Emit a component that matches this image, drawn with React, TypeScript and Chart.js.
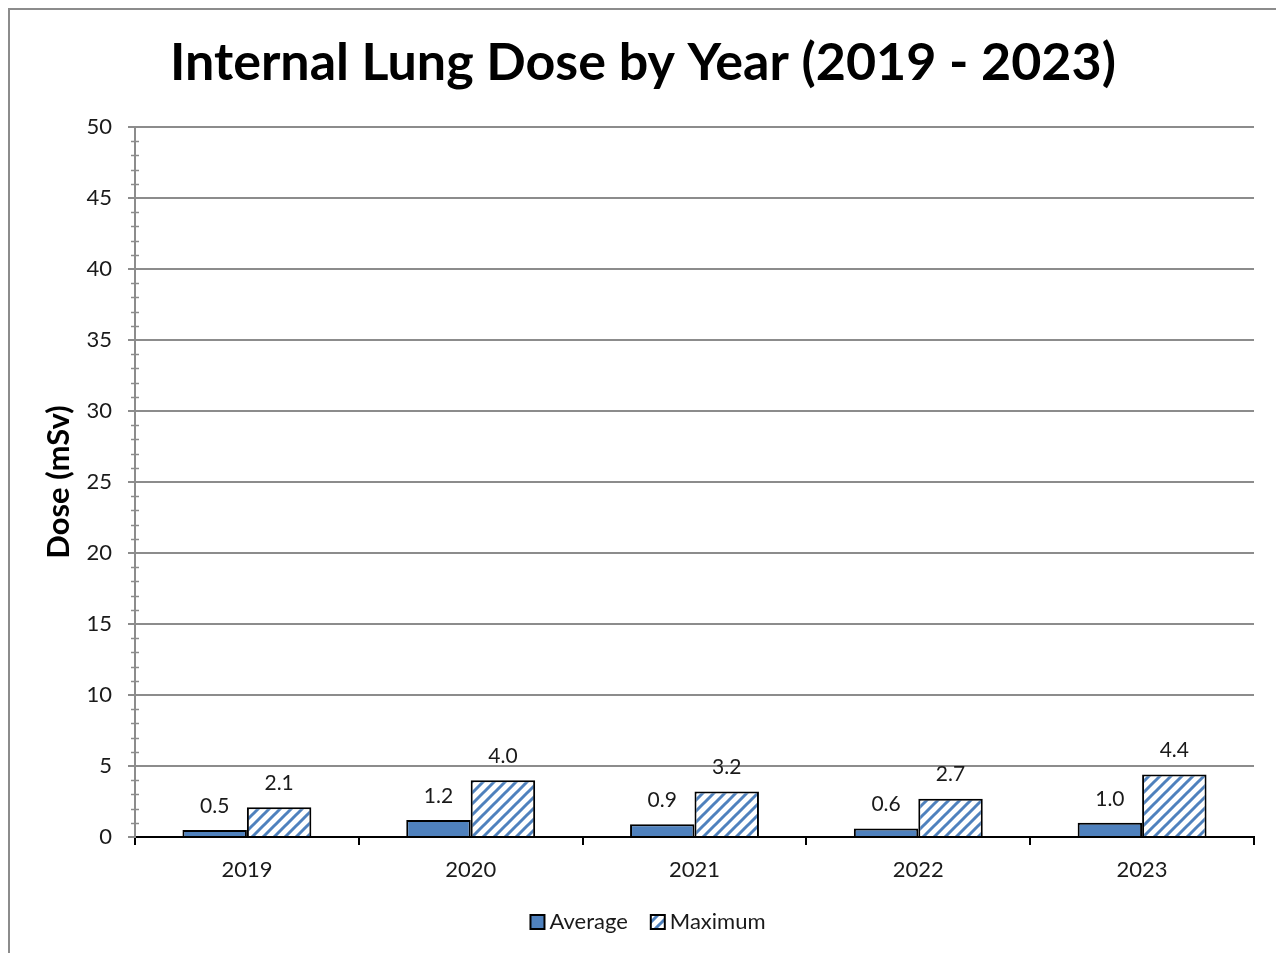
import React, { useEffect, useRef } from "react";
import { Chart, registerables } from "chart.js";

Chart.register(...registerables);

const years = ["2019", "2020", "2021", "2022", "2023"];
const averageDose = [0.5, 1.2, 0.9, 0.6, 1.0];
const maximumDose = [2.1, 4.0, 3.2, 2.7, 4.4];
const seriesNames = ["Average", "Maximum"];
const chartTitle = "Internal Lung Dose by Year (2019 - 2023)";
const yAxisTitle = "Dose (mSv)";

const FONT = "Lato, 'Open Sans', sans-serif";
const BLUE = "#4F81BD";
const GRID = "#8c8c8c";
const TEXT = "#1a1a1a";

function makeStripePattern(): CanvasPattern | string {
  const s = 11;
  const c = document.createElement("canvas");
  c.width = s;
  c.height = s;
  const g = c.getContext("2d");
  if (!g) return BLUE;
  g.fillStyle = "#ffffff";
  g.fillRect(0, 0, s, s);
  g.strokeStyle = BLUE;
  g.lineWidth = 3;
  g.lineCap = "square";
  g.beginPath();
  g.moveTo(0, s);
  g.lineTo(s, 0);
  g.moveTo(-s / 2, s / 2);
  g.lineTo(s / 2, -s / 2);
  g.moveTo(s / 2, s + s / 2);
  g.lineTo(s + s / 2, s / 2);
  g.stroke();
  const p = g.createPattern(c, "repeat");
  return p || BLUE;
}

const decorPlugin = {
  id: "decor",
  afterDatasetsDraw(chart: any) {
    const ctx = chart.ctx;
    ctx.save();
    ctx.font = `21px ${FONT}`;
    ctx.fillStyle = TEXT;
    ctx.textAlign = "center";
    ctx.textBaseline = "middle";
    chart.data.datasets.forEach((ds: any, di: number) => {
      const meta = chart.getDatasetMeta(di);
      meta.data.forEach((el: any, i: number) => {
        const v = ds.data[i] as number;
        ctx.fillText(v.toFixed(1), el.x, el.y - 24);
      });
    });
    ctx.restore();
  },
  afterDraw(chart: any) {
    const ctx = chart.ctx;
    const y = chart.scales.y;
    const area = chart.chartArea;
    ctx.save();
    // minor ticks
    ctx.strokeStyle = GRID;
    ctx.lineWidth = 1.5;
    for (let v = 1; v < 50; v++) {
      if (v % 5 === 0) continue;
      const py = Math.round(y.getPixelForValue(v)) + 0.5;
      ctx.beginPath();
      ctx.moveTo(area.left - 4, py);
      ctx.lineTo(area.left + 4, py);
      ctx.stroke();
    }
    // title
    ctx.fillStyle = "#000";
    ctx.font = `bold 52px ${FONT}`;
    ctx.textAlign = "center";
    ctx.textBaseline = "alphabetic";
    ctx.fillText(chartTitle, 643, 80);
    // y axis title
    ctx.save();
    ctx.translate(69, 482);
    ctx.rotate(-Math.PI / 2);
    ctx.font = `bold 31px ${FONT}`;
    ctx.fillText(yAxisTitle, 0, 0);
    ctx.restore();
    // legend
    ctx.font = `22px ${FONT}`;
    ctx.textAlign = "left";
    ctx.textBaseline = "middle";
    const box = 14;
    const items = chart.data.datasets.map((ds: any) => ({
      label: ds.label,
      fill: ds.backgroundColor,
      w: ctx.measureText(ds.label).width,
    }));
    const gapBox = 5;
    const gapItem = 23;
    let total = 0;
    items.forEach((it: any, i: number) => {
      total += box + gapBox + it.w + (i < items.length - 1 ? gapItem : 0);
    });
    let x = 648 - total / 2;
    const ly = 922;
    items.forEach((it: any) => {
      ctx.fillStyle = it.fill;
      ctx.fillRect(x, ly - box / 2, box, box);
      ctx.strokeStyle = "#000";
      ctx.lineWidth = 2;
      ctx.strokeRect(x, ly - box / 2, box, box);
      ctx.fillStyle = TEXT;
      ctx.fillText(it.label, x + box + gapBox, ly);
      x += box + gapBox + it.w + gapItem;
    });
    ctx.restore();
  },
};

export default function App() {
  const ref = useRef<HTMLCanvasElement | null>(null);

  useEffect(() => {
    if (!ref.current) return;
    const pattern = makeStripePattern();
    const chart = new Chart(ref.current, {
      type: "bar",
      data: {
        labels: years,
        datasets: [
          {
            label: seriesNames[0],
            data: averageDose,
            backgroundColor: BLUE,
            borderColor: "#000",
            borderWidth: 2,
            categoryPercentage: 0.576,
            barPercentage: 1,
          },
          {
            label: seriesNames[1],
            data: maximumDose,
            backgroundColor: pattern as any,
            borderColor: "#000",
            borderWidth: 2,
            categoryPercentage: 0.576,
            barPercentage: 1,
          },
        ],
      },
      options: {
        animation: false,
        responsive: false,
        maintainAspectRatio: false,
        layout: { padding: { left: 0, right: 22, top: 127, bottom: 76 } },
        plugins: {
          legend: { display: false },
          title: { display: false },
          tooltip: { enabled: false },
        },
        scales: {
          x: {
            afterFit: (s: any) => {
              s.height = 40;
            },
            grid: {
              drawOnChartArea: false,
              drawTicks: true,
              tickLength: 8,
              color: "#000",
              lineWidth: 2,
            },
            border: { color: "#000", width: 2 },
            ticks: {
              color: TEXT,
              font: { family: FONT, size: 22 },
              padding: 12,
            },
          },
          y: {
            min: 0,
            max: 50,
            afterFit: (s: any) => {
              s.width = 135;
            },
            ticks: {
              stepSize: 5,
              color: TEXT,
              font: { family: FONT, size: 22 },
              padding: 16,
            },
            grid: {
              color: (c: any) => (c.tick && c.tick.value === 0 ? "#000" : GRID),
              tickColor: GRID,
              lineWidth: 2,
              tickLength: 7,
            },
            border: { color: GRID, width: 2 },
          },
        },
      },
      plugins: [decorPlugin],
    });
    return () => chart.destroy();
  }, []);

  return (
    <div>
      <div
        style={{
          position: "absolute",
          left: 8,
          top: 8,
          width: 1268,
          height: 945,
          boxSizing: "border-box",
          borderLeft: "2px solid #8c8c8c",
          borderTop: "2px solid #8c8c8c",
          background: "#fff",
        }}
      />
      <canvas
        ref={ref}
        width={1276}
        height={953}
        style={{ position: "absolute", left: 0, top: 0, width: 1276, height: 953 }}
      />
    </div>
  );
}
